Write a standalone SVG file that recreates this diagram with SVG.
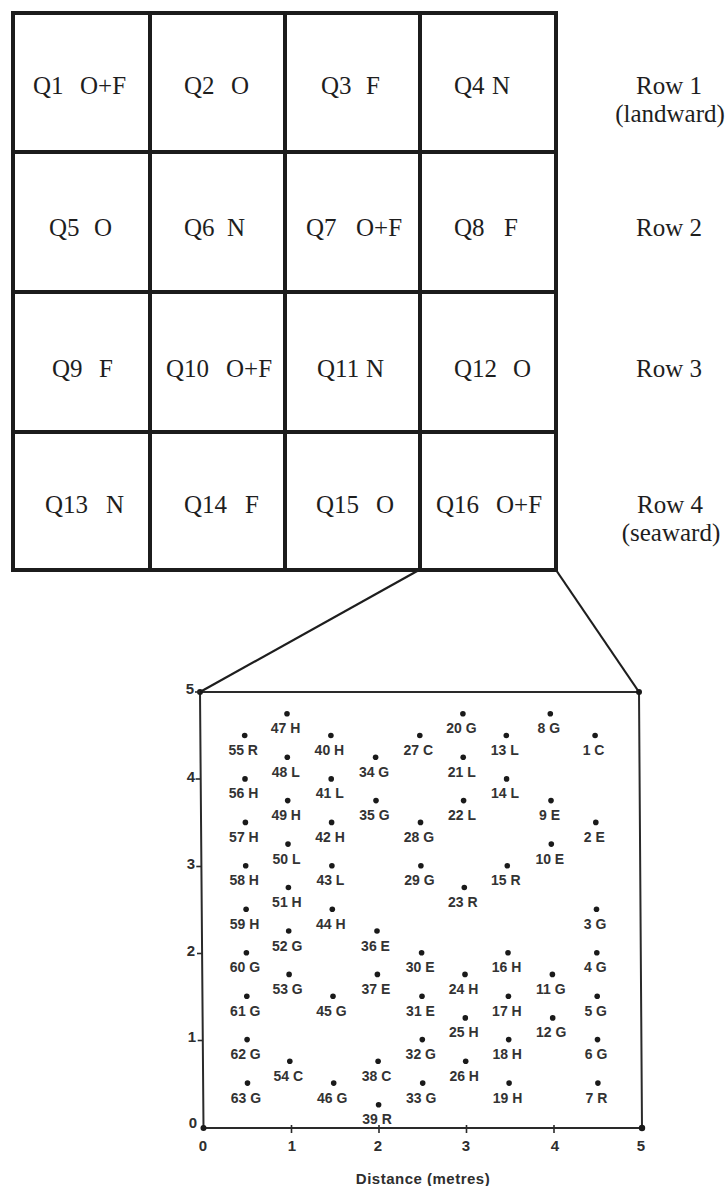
<svg xmlns="http://www.w3.org/2000/svg" width="725" height="1186" viewBox="0 0 725 1186">
<style>
.cell{fill:#fff;stroke:#1c1c1c;stroke-width:4}
.q{font-family:"Liberation Serif","Times New Roman",serif;font-size:25px;fill:#1e1e1e}
.rl{font-family:"Liberation Serif","Times New Roman",serif;font-size:25px;fill:#1e1e1e;text-anchor:middle}
.conn{stroke:#1e1e1e;stroke-width:2.2;fill:none}
.frame{stroke:#2a2a2a;stroke-width:2;fill:none}
.tick{stroke:#2a2a2a;stroke-width:1.6}
.ax{font-family:"Liberation Sans",Arial,sans-serif;font-weight:bold;font-size:15px;fill:#2e2e2e}
.dot{fill:#1a1a1a}
.lbl{font-family:"Liberation Sans",Arial,sans-serif;font-weight:bold;font-size:14px;fill:#333;text-anchor:middle}
</style>
<rect width="725" height="1186" fill="#fff"/>
<g id="grid">
<g id="Q1"><rect class="cell" x="13" y="13" width="137" height="139"/><text class="q" y="94"><tspan x="33">Q1</tspan><tspan x="80">O+F</tspan></text></g>
<g id="Q2"><rect class="cell" x="150" y="13" width="135" height="139"/><text class="q" y="94"><tspan x="184">Q2</tspan><tspan x="231">O</tspan></text></g>
<g id="Q3"><rect class="cell" x="285" y="13" width="135" height="139"/><text class="q" y="94"><tspan x="321">Q3</tspan><tspan x="366">F</tspan></text></g>
<g id="Q4"><rect class="cell" x="420" y="13" width="136" height="139"/><text class="q" y="94"><tspan x="454">Q4</tspan><tspan x="492">N</tspan></text></g>
<g id="Q5"><rect class="cell" x="13" y="152" width="137" height="140"/><text class="q" y="236"><tspan x="49">Q5</tspan><tspan x="94">O</tspan></text></g>
<g id="Q6"><rect class="cell" x="150" y="152" width="135" height="140"/><text class="q" y="236"><tspan x="184">Q6</tspan><tspan x="227">N</tspan></text></g>
<g id="Q7"><rect class="cell" x="285" y="152" width="135" height="140"/><text class="q" y="236"><tspan x="306">Q7</tspan><tspan x="356">O+F</tspan></text></g>
<g id="Q8"><rect class="cell" x="420" y="152" width="136" height="140"/><text class="q" y="236"><tspan x="454">Q8</tspan><tspan x="504">F</tspan></text></g>
<g id="Q9"><rect class="cell" x="13" y="292" width="137" height="140"/><text class="q" y="377"><tspan x="52">Q9</tspan><tspan x="99">F</tspan></text></g>
<g id="Q10"><rect class="cell" x="150" y="292" width="135" height="140"/><text class="q" y="377"><tspan x="166">Q10</tspan><tspan x="226">O+F</tspan></text></g>
<g id="Q11"><rect class="cell" x="285" y="292" width="135" height="140"/><text class="q" y="377"><tspan x="317">Q11</tspan><tspan x="366">N</tspan></text></g>
<g id="Q12"><rect class="cell" x="420" y="292" width="136" height="140"/><text class="q" y="377"><tspan x="454">Q12</tspan><tspan x="513">O</tspan></text></g>
<g id="Q13"><rect class="cell" x="13" y="432" width="137" height="138"/><text class="q" y="513"><tspan x="45">Q13</tspan><tspan x="106">N</tspan></text></g>
<g id="Q14"><rect class="cell" x="150" y="432" width="135" height="138"/><text class="q" y="513"><tspan x="184">Q14</tspan><tspan x="245">F</tspan></text></g>
<g id="Q15"><rect class="cell" x="285" y="432" width="135" height="138"/><text class="q" y="513"><tspan x="316">Q15</tspan><tspan x="376">O</tspan></text></g>
<g id="Q16"><rect class="cell" x="420" y="432" width="136" height="138"/><text class="q" y="513"><tspan x="436">Q16</tspan><tspan x="496">O+F</tspan></text></g>
</g>
<g id="rowlabels">
<g id="row1"><text class="rl" x="669" y="94">Row 1</text><text class="rl" x="670" y="122">(landward)</text></g>
<g id="row2"><text class="rl" x="669" y="236">Row 2</text></g>
<g id="row3"><text class="rl" x="669" y="377">Row 3</text></g>
<g id="row4"><text class="rl" x="670" y="513">Row 4</text><text class="rl" x="671" y="541">(seaward)</text></g>
</g>
<g id="connectors">
<line class="conn" x1="419" y1="570" x2="200" y2="692"/>
<line class="conn" x1="556" y1="570" x2="639" y2="692"/>
</g>
<g id="plot">
<path class="frame" d="M200,692 L639,692 L642,1128 L203.5,1128 Z"/>
<circle class="dot" cx="200" cy="692" r="3"/>
<circle class="dot" cx="639" cy="692" r="3"/>
<circle class="dot" cx="642" cy="1128" r="3.2"/>
<circle class="dot" cx="203.5" cy="1128" r="3"/>
<line class="tick" x1="195" y1="692" x2="200" y2="692"/>
<line class="tick" x1="195.6" y1="779" x2="200.6" y2="779"/>
<line class="tick" x1="196.3" y1="866.5" x2="201.3" y2="866.5"/>
<line class="tick" x1="197" y1="953.5" x2="202" y2="953.5"/>
<line class="tick" x1="197.7" y1="1040.5" x2="202.7" y2="1040.5"/>
<line class="tick" x1="291.5" y1="1125" x2="291.5" y2="1133"/>
<line class="tick" x1="379" y1="1125" x2="379" y2="1133"/>
<line class="tick" x1="466.5" y1="1125" x2="466.5" y2="1133"/>
<line class="tick" x1="554" y1="1125" x2="554" y2="1133"/>
<g class="ax" text-anchor="end">
<text x="194" y="694">5</text>
<text x="195" y="782">4</text>
<text x="195" y="869">3</text>
<text x="195" y="956">2</text>
<text x="196" y="1042">1</text>
<text x="197" y="1128">0</text>
</g>
<g class="ax" text-anchor="middle">
<text x="203" y="1151">0</text>
<text x="292" y="1151">1</text>
<text x="378" y="1151">2</text>
<text x="466" y="1151">3</text>
<text x="555" y="1151">4</text>
<text x="641" y="1151">5</text>
</g>
<text class="ax" x="423" y="1184" text-anchor="middle" letter-spacing="0.5">Distance (metres)</text>
</g>
<g id="points">
<g id="p1"><circle class="dot" cx="595.1" cy="735.5" r="2.8"/><text class="lbl" x="593.6" y="755">1 C</text></g>
<g id="p2"><circle class="dot" cx="595.8" cy="822.4" r="2.8"/><text class="lbl" x="594.3" y="841.9">2 E</text></g>
<g id="p3"><circle class="dot" cx="596.5" cy="909.3" r="2.8"/><text class="lbl" x="595" y="928.8">3 G</text></g>
<g id="p4"><circle class="dot" cx="596.8" cy="952.7" r="2.8"/><text class="lbl" x="595.3" y="972.2">4 G</text></g>
<g id="p5"><circle class="dot" cx="597.2" cy="996.2" r="2.8"/><text class="lbl" x="595.7" y="1015.7">5 G</text></g>
<g id="p6"><circle class="dot" cx="597.5" cy="1039.6" r="2.8"/><text class="lbl" x="596" y="1059.1">6 G</text></g>
<g id="p7"><circle class="dot" cx="597.9" cy="1083.1" r="2.8"/><text class="lbl" x="596.4" y="1102.6">7 R</text></g>
<g id="p8"><circle class="dot" cx="550.3" cy="713.7" r="2.8"/><text class="lbl" x="548.8" y="733.2">8 G</text></g>
<g id="p9"><circle class="dot" cx="551" cy="800.6" r="2.8"/><text class="lbl" x="549.5" y="820.1">9 E</text></g>
<g id="p10"><circle class="dot" cx="551.3" cy="844.1" r="2.8"/><text class="lbl" x="549.8" y="863.6">10 E</text></g>
<g id="p11"><circle class="dot" cx="552.4" cy="974.4" r="2.8"/><text class="lbl" x="550.9" y="993.9">11 G</text></g>
<g id="p12"><circle class="dot" cx="552.7" cy="1017.9" r="2.8"/><text class="lbl" x="551.2" y="1037.4">12 G</text></g>
<g id="p13"><circle class="dot" cx="506.3" cy="735.5" r="2.8"/><text class="lbl" x="504.8" y="755">13 L</text></g>
<g id="p14"><circle class="dot" cx="506.6" cy="778.9" r="2.8"/><text class="lbl" x="505.1" y="798.4">14 L</text></g>
<g id="p15"><circle class="dot" cx="507.3" cy="865.8" r="2.8"/><text class="lbl" x="505.8" y="885.3">15 R</text></g>
<g id="p16"><circle class="dot" cx="508" cy="952.7" r="2.8"/><text class="lbl" x="506.5" y="972.2">16 H</text></g>
<g id="p17"><circle class="dot" cx="508.4" cy="996.2" r="2.8"/><text class="lbl" x="506.9" y="1015.7">17 H</text></g>
<g id="p18"><circle class="dot" cx="508.7" cy="1039.6" r="2.8"/><text class="lbl" x="507.2" y="1059.1">18 H</text></g>
<g id="p19"><circle class="dot" cx="509.1" cy="1083.1" r="2.8"/><text class="lbl" x="507.6" y="1102.6">19 H</text></g>
<g id="p20"><circle class="dot" cx="462.9" cy="713.7" r="2.8"/><text class="lbl" x="461.4" y="733.2">20 G</text></g>
<g id="p21"><circle class="dot" cx="463.2" cy="757.2" r="2.8"/><text class="lbl" x="461.7" y="776.7">21 L</text></g>
<g id="p22"><circle class="dot" cx="463.6" cy="800.6" r="2.8"/><text class="lbl" x="462.1" y="820.1">22 L</text></g>
<g id="p23"><circle class="dot" cx="464.3" cy="887.5" r="2.8"/><text class="lbl" x="462.8" y="907">23 R</text></g>
<g id="p24"><circle class="dot" cx="465" cy="974.4" r="2.8"/><text class="lbl" x="463.5" y="993.9">24 H</text></g>
<g id="p25"><circle class="dot" cx="465.3" cy="1017.9" r="2.8"/><text class="lbl" x="463.8" y="1037.4">25 H</text></g>
<g id="p26"><circle class="dot" cx="465.7" cy="1061.3" r="2.8"/><text class="lbl" x="464.2" y="1080.8">26 H</text></g>
<g id="p27"><circle class="dot" cx="419.8" cy="735.5" r="2.8"/><text class="lbl" x="418.3" y="755">27 C</text></g>
<g id="p28"><circle class="dot" cx="420.5" cy="822.4" r="2.8"/><text class="lbl" x="419" y="841.9">28 G</text></g>
<g id="p29"><circle class="dot" cx="420.9" cy="865.8" r="2.8"/><text class="lbl" x="419.4" y="885.3">29 G</text></g>
<g id="p30"><circle class="dot" cx="421.6" cy="952.7" r="2.8"/><text class="lbl" x="420.1" y="972.2">30 E</text></g>
<g id="p31"><circle class="dot" cx="422" cy="996.2" r="2.8"/><text class="lbl" x="420.5" y="1015.7">31 E</text></g>
<g id="p32"><circle class="dot" cx="422.3" cy="1039.6" r="2.8"/><text class="lbl" x="420.8" y="1059.1">32 G</text></g>
<g id="p33"><circle class="dot" cx="422.7" cy="1083.1" r="2.8"/><text class="lbl" x="421.2" y="1102.6">33 G</text></g>
<g id="p34"><circle class="dot" cx="375.6" cy="757.2" r="2.8"/><text class="lbl" x="374.1" y="776.7">34 G</text></g>
<g id="p35"><circle class="dot" cx="376" cy="800.6" r="2.8"/><text class="lbl" x="374.5" y="820.1">35 G</text></g>
<g id="p36"><circle class="dot" cx="377" cy="931" r="2.8"/><text class="lbl" x="375.5" y="950.5">36 E</text></g>
<g id="p37"><circle class="dot" cx="377.4" cy="974.4" r="2.8"/><text class="lbl" x="375.9" y="993.9">37 E</text></g>
<g id="p38"><circle class="dot" cx="378.1" cy="1061.3" r="2.8"/><text class="lbl" x="376.6" y="1080.8">38 C</text></g>
<g id="p39"><circle class="dot" cx="378.6" cy="1104.8" r="2.8"/><text class="lbl" x="377.1" y="1124.3">39 R</text></g>
<g id="p40"><circle class="dot" cx="330.9" cy="735.5" r="2.8"/><text class="lbl" x="329.4" y="755">40 H</text></g>
<g id="p41"><circle class="dot" cx="331.2" cy="778.9" r="2.8"/><text class="lbl" x="329.7" y="798.4">41 L</text></g>
<g id="p42"><circle class="dot" cx="331.6" cy="822.4" r="2.8"/><text class="lbl" x="330.1" y="841.9">42 H</text></g>
<g id="p43"><circle class="dot" cx="331.9" cy="865.8" r="2.8"/><text class="lbl" x="330.4" y="885.3">43 L</text></g>
<g id="p44"><circle class="dot" cx="332.3" cy="909.3" r="2.8"/><text class="lbl" x="330.8" y="928.8">44 H</text></g>
<g id="p45"><circle class="dot" cx="333" cy="996.2" r="2.8"/><text class="lbl" x="331.5" y="1015.7">45 G</text></g>
<g id="p46"><circle class="dot" cx="333.7" cy="1083.1" r="2.8"/><text class="lbl" x="332.2" y="1102.6">46 G</text></g>
<g id="p47"><circle class="dot" cx="287" cy="713.7" r="2.8"/><text class="lbl" x="285.5" y="733.2">47 H</text></g>
<g id="p48"><circle class="dot" cx="287.3" cy="757.2" r="2.8"/><text class="lbl" x="285.8" y="776.7">48 L</text></g>
<g id="p49"><circle class="dot" cx="287.7" cy="800.6" r="2.8"/><text class="lbl" x="286.2" y="820.1">49 H</text></g>
<g id="p50"><circle class="dot" cx="288" cy="844.1" r="2.8"/><text class="lbl" x="286.5" y="863.6">50 L</text></g>
<g id="p51"><circle class="dot" cx="288.4" cy="887.5" r="2.8"/><text class="lbl" x="286.9" y="907">51 H</text></g>
<g id="p52"><circle class="dot" cx="288.7" cy="931" r="2.8"/><text class="lbl" x="287.2" y="950.5">52 G</text></g>
<g id="p53"><circle class="dot" cx="289.1" cy="974.4" r="2.8"/><text class="lbl" x="287.6" y="993.9">53 G</text></g>
<g id="p54"><circle class="dot" cx="289.8" cy="1061.3" r="2.8"/><text class="lbl" x="288.3" y="1080.8">54 C</text></g>
<g id="p55"><circle class="dot" cx="244.7" cy="735.5" r="2.8"/><text class="lbl" x="243.2" y="755">55 R</text></g>
<g id="p56"><circle class="dot" cx="245" cy="778.9" r="2.8"/><text class="lbl" x="243.5" y="798.4">56 H</text></g>
<g id="p57"><circle class="dot" cx="245.4" cy="822.4" r="2.8"/><text class="lbl" x="243.9" y="841.9">57 H</text></g>
<g id="p58"><circle class="dot" cx="245.7" cy="865.8" r="2.8"/><text class="lbl" x="244.2" y="885.3">58 H</text></g>
<g id="p59"><circle class="dot" cx="246.1" cy="909.3" r="2.8"/><text class="lbl" x="244.6" y="928.8">59 H</text></g>
<g id="p60"><circle class="dot" cx="246.4" cy="952.7" r="2.8"/><text class="lbl" x="244.9" y="972.2">60 G</text></g>
<g id="p61"><circle class="dot" cx="246.8" cy="996.2" r="2.8"/><text class="lbl" x="245.3" y="1015.7">61 G</text></g>
<g id="p62"><circle class="dot" cx="247.1" cy="1039.6" r="2.8"/><text class="lbl" x="245.6" y="1059.1">62 G</text></g>
<g id="p63"><circle class="dot" cx="247.5" cy="1083.1" r="2.8"/><text class="lbl" x="246" y="1102.6">63 G</text></g>
</g>
</svg>
